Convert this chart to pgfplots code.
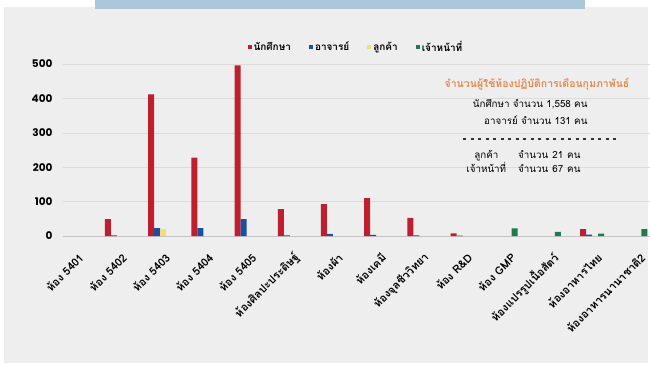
\documentclass[border=0pt]{standalone}
\usepackage{fontspec}
\usepackage{pgfplots}
\pgfplotsset{compat=1.18}
\setmainfont[Script=Thai]{Loma}
\newfontfamily\pop{Poppins}
\definecolor{cred}{HTML}{BE1E2D}
\definecolor{cblue}{HTML}{1D4F9C}
\definecolor{cyellow}{HTML}{F7DC6F}
\definecolor{cgreen}{HTML}{1E7B4B}
\definecolor{bggray}{HTML}{EEEEEE}
\definecolor{gridgray}{HTML}{DCDCDC}
\definecolor{axisgray}{HTML}{C4C4C4}
\definecolor{topblue}{HTML}{AAC8DA}
\definecolor{corange}{HTML}{E8894A}
\begin{document}
\begin{tikzpicture}
\useasboundingbox (0pt,0pt) rectangle (650pt,365pt);
\fill[white] (0pt,0pt) rectangle (650pt,365pt);
\fill[bggray] (4pt,2pt) rectangle (648pt,358pt);
\fill[topblue] (95pt,356pt) rectangle (585pt,365pt);
\begin{axis}[
  at={(63pt,129pt)}, anchor=south west, scale only axis,
  width=587pt, height=172pt,
  xmin=-0.25, xmax=13.34, ymin=0, ymax=500,
  ybar, bar width=6pt,
  axis x line*=bottom, axis y line*=left,
  x axis line style={draw=axisgray, line width=0.6pt, -},
  y axis line style={draw=none},
  ytick={0,100,200,300,400,500},
  ymajorgrids, grid style={draw=gridgray, line width=0.6pt},
  major tick length=0pt,
  xtick={0,1,...,13},
  xticklabels={ห้อง 5401, ห้อง 5402, ห้อง 5403, ห้อง 5404, ห้อง 5405, ห้องศิลปะประดิษฐ์, ห้องผ้า, ห้องเคมี, ห้องจุลชีววิทยา, ห้อง R\&D, ห้อง GMP, ห้องแปรรูปเนื้อสัตว์, ห้องอาหารไทย, ห้องอาหารนานาชาติ2},
  xticklabel style={font=\bfseries\fontsize{11}{11}\selectfont, xshift=10pt, yshift=-17pt, rotate=45, anchor=east},
  yticklabel style={font=\pop\bfseries\fontsize{10.5}{10.5}\selectfont, xshift=-7pt},
  /pgf/number format/assume math mode=true,
  legend image code/.code={\fill[#1] (0pt,-2pt) rectangle (4pt,2pt);},
  legend style={at={(0.499,1.099)}, anchor=center, legend columns=-1, draw=none, fill=none,
    font=\bfseries\fontsize{10}{10}\selectfont,
    /tikz/every even column/.append style={column sep=16pt}},
]
\addplot[fill=cred, draw=none, bar shift=-9pt] coordinates {(1,49) (2,412) (3,228) (4,496) (5,78) (6,93) (7,110) (8,53) (9,8) (12,20)};
\addplot[fill=cblue, draw=none, bar shift=-3pt] coordinates {(1,2) (2,23) (3,23) (4,49) (5,2) (6,6) (7,3) (8,2) (9,1) (12,4)};
\addplot[fill=cyellow, draw=none, bar shift=3pt] coordinates {(2,21)};
\addplot[fill=cgreen, draw=none, bar shift=9pt] coordinates {(10,22) (11,12) (12,7) (13,20)};
\legend{นักศึกษา, อาจารย์, ลูกค้า, เจ้าหน้าที่}
\end{axis}
\node[text=corange, font=\bfseries\fontsize{10.5}{11}\selectfont] at (537pt,281pt) {จำนวนผู้ใช้ห้องปฏิบัติการเดือนกุมภาพันธ์};
\node[anchor=east, font=\fontsize{9.8}{10}\selectfont] at (591pt,261pt) {นักศึกษา จำนวน 1,558 คน};
\node[anchor=east, font=\fontsize{9.8}{10}\selectfont] at (591pt,245pt) {อาจารย์ จำนวน 131 คน};
\draw[line width=1.2pt, dash pattern=on 3pt off 4.5pt, black!80] (463pt,226pt) -- (620pt,226pt);
\node[anchor=east, font=\fontsize{9.8}{10}\selectfont] at (584pt,202pt) {\begin{tabular}{@{}c@{\hspace{12pt}}l@{\hspace{4pt}}r@{\hspace{4pt}}l@{}}ลูกค้า & จำนวน & 21 & คน\\[1pt] เจ้าหน้าที่ & จำนวน & 67 & คน\end{tabular}};
\end{tikzpicture}
\end{document}
